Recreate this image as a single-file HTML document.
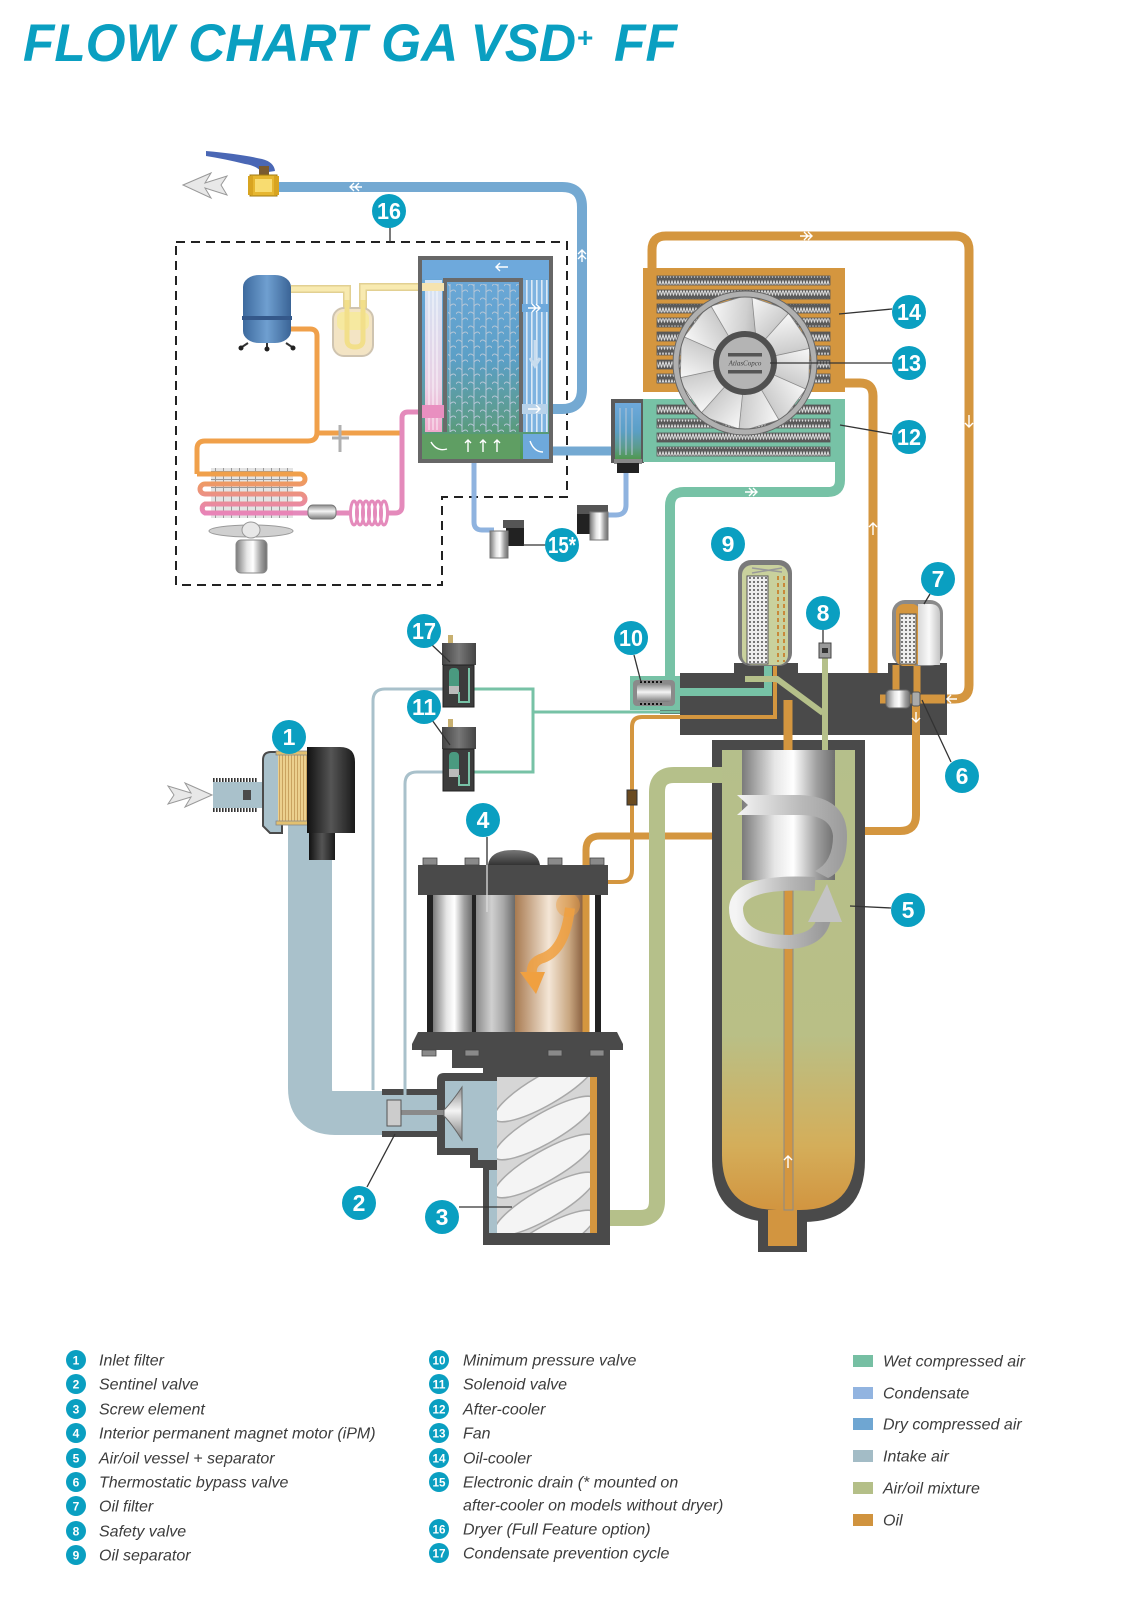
<!DOCTYPE html>
<html><head><meta charset="utf-8"><style>
html,body{margin:0;padding:0;background:#fff;}
svg{display:block;}
.lb circle{fill:#0a9fc1;}
.lb text{fill:#fff;font-family:"Liberation Sans",sans-serif;font-weight:bold;font-size:23px;text-anchor:middle;}
.lg circle{fill:#0a9fc1;}
.lg text.n{fill:#fff;font-family:"Liberation Sans",sans-serif;font-weight:bold;font-size:12px;text-anchor:middle;}
.t{fill:#3c3c3c;font-family:"Liberation Sans",sans-serif;font-style:italic;font-size:16px;}
.ld{stroke:#333;stroke-width:1.3;fill:none;}
.wa{stroke:#fff;stroke-width:1.4;fill:none;}
</style></head><body>
<svg width="1123" height="1608" viewBox="0 0 1123 1608" xmlns="http://www.w3.org/2000/svg">
<defs>
<linearGradient id="silver" x1="0" x2="1" y1="0" y2="0"><stop offset="0" stop-color="#7a7a7a"/><stop offset="0.35" stop-color="#e6e6e6"/><stop offset="0.55" stop-color="#ffffff"/><stop offset="0.8" stop-color="#a0a0a0"/><stop offset="1" stop-color="#6e6e6e"/></linearGradient>
<linearGradient id="silver2" x1="0" x2="1"><stop offset="0" stop-color="#8a8a8a"/><stop offset="0.4" stop-color="#d0d0d0"/><stop offset="0.7" stop-color="#a8a8a8"/><stop offset="1" stop-color="#6a6a6a"/></linearGradient>
<linearGradient id="silverV" x1="0" x2="0" y1="0" y2="1"><stop offset="0" stop-color="#8a8a8a"/><stop offset="0.45" stop-color="#f4f4f4"/><stop offset="1" stop-color="#7a7a7a"/></linearGradient>
<linearGradient id="lightcap" x1="0" x2="1"><stop offset="0" stop-color="#d8d8d8"/><stop offset="0.5" stop-color="#fafafa"/><stop offset="1" stop-color="#c4c4c4"/></linearGradient>
<linearGradient id="copper" x1="0" x2="1"><stop offset="0" stop-color="#a87a50"/><stop offset="0.5" stop-color="#f4e6d6"/><stop offset="0.8" stop-color="#c8a680"/><stop offset="1" stop-color="#8a6040"/></linearGradient>
<linearGradient id="vessel" x1="0" y1="0" x2="0" y2="1"><stop offset="0" stop-color="#b5bf8b"/><stop offset="0.62" stop-color="#b9bf86"/><stop offset="0.86" stop-color="#d4ae5a"/><stop offset="1" stop-color="#d29540"/></linearGradient>
<linearGradient id="dryer" x1="0" y1="0" x2="0" y2="1"><stop offset="0" stop-color="#6ea9dc"/><stop offset="0.5" stop-color="#5b9fc6"/><stop offset="0.8" stop-color="#5c9c8c"/><stop offset="1" stop-color="#4f9850"/></linearGradient>
<linearGradient id="tank" x1="0" x2="1"><stop offset="0" stop-color="#3d6a9e"/><stop offset="0.5" stop-color="#6f9fd0"/><stop offset="1" stop-color="#3a6496"/></linearGradient>
<linearGradient id="black" x1="0" x2="1"><stop offset="0" stop-color="#111"/><stop offset="0.5" stop-color="#555"/><stop offset="1" stop-color="#1a1a1a"/></linearGradient>
<linearGradient id="capg" x1="0" x2="1"><stop offset="0" stop-color="#444"/><stop offset="0.5" stop-color="#777"/><stop offset="1" stop-color="#444"/></linearGradient>
<linearGradient id="blade" x1="0" y1="0" x2="1" y2="1"><stop offset="0" stop-color="#fbfbfb"/><stop offset="0.6" stop-color="#cfcfcf"/><stop offset="1" stop-color="#9a9a9a"/></linearGradient>
<linearGradient id="refr" x1="0" y1="0" x2="0" y2="1"><stop offset="0" stop-color="#f0a04a"/><stop offset="1" stop-color="#e884b8"/></linearGradient>
<linearGradient id="ltube" x1="0" y1="0" x2="0" y2="1"><stop offset="0" stop-color="#d4e4f4"/><stop offset="0.7" stop-color="#ead0e4"/><stop offset="1" stop-color="#f0a8cc"/></linearGradient>
<linearGradient id="ribbon" x1="0" x2="1"><stop offset="0" stop-color="#f4f4f4"/><stop offset="0.6" stop-color="#b8b8b8"/><stop offset="1" stop-color="#9a9a9a"/></linearGradient>
<linearGradient id="brownbar" x1="0" x2="1"><stop offset="0" stop-color="#c8843a"/><stop offset="0.5" stop-color="#8a5a2a"/><stop offset="1" stop-color="#c8843a"/></linearGradient>
<linearGradient id="dome" x1="0" y1="0" x2="0" y2="1"><stop offset="0" stop-color="#777"/><stop offset="1" stop-color="#333"/></linearGradient>
<pattern id="fin" width="6" height="9" patternUnits="userSpaceOnUse"><rect width="6" height="9" fill="#5a5a5a"/><polyline points="0,1.5 1.5,7.5 3,1.5 4.5,7.5 6,1.5" fill="none" stroke="#dcdcdc" stroke-width="1"/></pattern>
<pattern id="dots" width="4" height="4" patternUnits="userSpaceOnUse"><rect width="4" height="4" fill="#eee"/><circle cx="2" cy="2" r="0.9" fill="#222"/></pattern>
<pattern id="grid" width="8" height="8" patternUnits="userSpaceOnUse"><rect width="8" height="8" fill="#e4e4e4"/><path d="M7.5,0V8M0,7.5H8" stroke="#9a9a9a" stroke-width="1"/></pattern>
<pattern id="rstripes" width="5" height="10" patternUnits="userSpaceOnUse"><rect width="5" height="10" fill="#7fb3e0"/><rect x="1" width="1.6" height="10" fill="#dce9f6"/></pattern>
<pattern id="waves" width="12" height="14" patternUnits="userSpaceOnUse"><path d="M6,0V14M6,6q-4,-4 -6,0M6,12q4,-4 6,0" stroke="#b6c6d6" stroke-width="1" fill="none"/></pattern>
<pattern id="thread" width="3" height="4" patternUnits="userSpaceOnUse"><rect width="3" height="4" fill="#fff"/><rect width="1.6" height="4" fill="#333"/></pattern>
<pattern id="flt" width="3" height="10" patternUnits="userSpaceOnUse"><rect width="3" height="10" fill="#ecd08e"/><rect width="1" height="10" fill="#caa360"/></pattern>
<clipPath id="rot"><rect x="497" y="1077" width="93" height="156"/></clipPath>
</defs>

<!-- TITLE -->
<text x="23" y="61" font-family="Liberation Sans, sans-serif" font-weight="bold" font-style="italic" font-size="53" fill="#0a9fc1" textLength="553" lengthAdjust="spacingAndGlyphs">FLOW CHART GA VSD</text>
<text x="577" y="47" font-family="Liberation Sans, sans-serif" font-weight="bold" font-size="28" fill="#0a9fc1">+</text>
<text x="614" y="61" font-family="Liberation Sans, sans-serif" font-weight="bold" font-style="italic" font-size="53" fill="#0a9fc1" textLength="63" lengthAdjust="spacingAndGlyphs">FF</text>

<!-- DASHED DRYER BOX -->
<path d="M176,242 H567 V497 H442 V585 H176 Z" fill="none" stroke="#222" stroke-width="2" stroke-dasharray="9 6"/>
<line x1="390" y1="226" x2="390" y2="242" class="ld"/>

<!-- dry air outlet pipe -->
<path d="M279,187 H562 Q582,187 582,207 V389 Q582,409 562,409 H548" fill="none" stroke="#74a9d2" stroke-width="10"/>
<path class="wa" d="M350,187 H362 M354,183 L350,187 L354,191 M359,183 L355,187 L359,191"/>
<path class="wa" d="M582,262 V250 M578,254 L582,250 L586,254 M578,259 L582,255 L586,259"/>
<path d="M549,451 H612" stroke="#74a9d2" stroke-width="9"/>
<!-- valve -->
<path d="M206,151 Q240,154 262,159 Q274,162 275,171 L262,173 Q258,166 245,164 Q225,159 206,156 Z" fill="#4a67b5"/>
<rect x="259" y="166" width="10" height="9" fill="#7a5a30"/>
<rect x="250" y="175" width="27" height="21" fill="#e6b630" stroke="#a07a10"/>
<rect x="255" y="179" width="17" height="13" fill="#f8dc70"/>
<rect x="248" y="176" width="5" height="19" fill="#d8a420"/>
<rect x="274" y="176" width="5" height="19" fill="#d8a420"/>
<polygon points="183,185 211,173 205,183 227,176 221,185 227,195 205,188 211,198" fill="#e8e8e8" stroke="#999" stroke-width="1"/>

<!-- refrigerant circuit -->
<path d="M291,289 H347 V340 Q347,347 355,347 Q363,347 363,340 V287 H423" fill="none" stroke="#e2d092" stroke-width="8"/>
<path d="M291,289 H347 V340 Q347,347 355,347 Q363,347 363,340 V287 H423" fill="none" stroke="#f8eab0" stroke-width="5"/>
<rect x="333" y="308" width="40" height="48" rx="11" fill="#f3e4c4" stroke="#cfc4b0" stroke-width="2"/>
<rect x="337" y="312" width="32" height="18" rx="6" fill="#f6e9a0"/>
<path d="M347,300 V340 Q347,347 355,347 Q363,347 363,340 V300" fill="none" stroke="#f2df8a" stroke-width="5"/>
<rect x="243" y="275" width="48" height="68" rx="16" ry="12" fill="url(#tank)"/>
<rect x="242" y="316" width="50" height="4" fill="#34588a"/>
<path d="M248,343 L242,347 M267,343 L267,347 M286,343 L292,347" stroke="#333" stroke-width="2"/>
<circle cx="241" cy="348" r="2.5" fill="#222"/><circle cx="267" cy="349" r="2.5" fill="#222"/><circle cx="293" cy="348" r="2.5" fill="#222"/>
<path d="M291,329 H310 Q317,329 317,336 V432 Q317,441 308,441 H205 Q197,441 197,449 V474" fill="none" stroke="#f0a04a" stroke-width="5"/>
<path d="M317,433 H404" fill="none" stroke="#f0a04a" stroke-width="5"/>
<path d="M340,425 V452 M332,438 H349" stroke="#b0b0b0" stroke-width="3"/>
<path d="M423,412 H408 Q402,412 402,418 V506 Q402,513 395,513 H388" fill="none" stroke="#e48abb" stroke-width="5"/>
<g fill="none" stroke="#e48abb" stroke-width="3">
<ellipse cx="384" cy="513" rx="3.5" ry="12"/><ellipse cx="378" cy="513" rx="3.5" ry="12"/><ellipse cx="372" cy="513" rx="3.5" ry="12"/><ellipse cx="366" cy="513" rx="3.5" ry="12"/><ellipse cx="360" cy="513" rx="3.5" ry="12"/><ellipse cx="354" cy="513" rx="3.5" ry="12"/></g>
<path d="M350,513 H293" stroke="#e48abb" stroke-width="5"/>
<rect x="308" y="505" width="28" height="14" rx="5" fill="url(#silverV)" stroke="#777"/>
<rect x="211" y="468" width="82" height="50" fill="url(#grid)"/>
<path d="M197,474 H300 a5,5 0 0 1 0,10 H205 a5,5 0 0 0 0,10 H300 a5,5 0 0 1 0,10 H205 a5,5 0 0 0 0,9 H293" fill="none" stroke="url(#refr)" stroke-width="5"/>
<ellipse cx="251" cy="531" rx="42" ry="6" fill="#d0d0d0" stroke="#9a9a9a"/>
<ellipse cx="251" cy="530" rx="9" ry="8" fill="#e8e8e8" stroke="#999"/>
<rect x="236" y="540" width="31" height="33" rx="5" fill="url(#silver)" stroke="#888"/>

<!-- dryer exchanger -->
<rect x="418" y="256" width="135" height="207" fill="#676767"/>
<rect x="422" y="260" width="127" height="199" fill="url(#dryer)"/>
<rect x="422" y="260" width="127" height="19" fill="#6ea9dc"/>
<rect x="448" y="284" width="71" height="148" fill="url(#waves)"/>
<path d="M445,432 V280 H521 V432" fill="none" stroke="#6a6a6a" stroke-width="4"/>
<rect x="425" y="280" width="17" height="152" fill="url(#ltube)"/>
<path d="M429,284V430M433,284V430M437,284V430" stroke="#fff" stroke-width="1" opacity="0.8"/>
<rect x="422" y="283" width="22" height="8" fill="#f5e3b0"/>
<rect x="422" y="405" width="22" height="13" fill="#e98fc0"/>
<rect x="523" y="280" width="25" height="152" fill="url(#rstripes)"/>
<rect x="522" y="304" width="26" height="8" fill="#6ea9dc"/>
<rect x="522" y="404" width="26" height="10" fill="#b8d2ea"/>
<rect x="422" y="434" width="98" height="25" fill="#5f9e63"/>
<rect x="523" y="434" width="26" height="25" fill="#6ea9dc"/>
<path class="wa" d="M508,267 H496 M500,263 L496,267 L500,271"/>
<path class="wa" d="M528,308 H540 M536,304 L540,308 L536,312 M532,304 L536,308 L532,312"/>
<path class="wa" d="M528,409 H540 M536,405 L540,409 L536,413"/>
<path d="M535,340 V365 M530,358 L535,366 L540,358" stroke="#c8dcee" stroke-width="3" fill="none"/>
<path class="wa" d="M468,452 V440 M465,443 L468,440 L471,443 M483,452 V440 M480,443 L483,440 L486,443 M497,452 V440 M494,443 L497,440 L500,443"/>
<path class="wa" d="M431,442 Q437,452 447,449"/>
<path class="wa" d="M530,441 Q534,452 543,452"/>

<!-- condensate lines & drains -->
<path d="M474,463 V522 Q474,530 482,530 H494" fill="none" stroke="#8fb3df" stroke-width="5"/>
<path d="M626,473 V505 Q626,515 616,515 H606" fill="none" stroke="#8fb3df" stroke-width="5"/>
<rect x="503" y="520" width="21" height="8" fill="#555"/>
<rect x="506" y="528" width="18" height="18" fill="#222"/>
<rect x="490" y="531" width="18" height="27" fill="url(#silver)" stroke="#777"/>
<rect x="577" y="505" width="31" height="9" fill="#555"/>
<rect x="577" y="514" width="18" height="20" fill="#222"/>
<rect x="590" y="512" width="18" height="28" fill="url(#silver)" stroke="#777"/>
<line x1="523" y1="545" x2="546" y2="545" class="ld"/>

<!-- water separator -->
<rect x="611" y="399" width="33" height="64" fill="#5a5a5a"/>
<rect x="615" y="403" width="26" height="56" fill="url(#dryer)"/>
<path d="M620,408V455M626,408V455M632,408V455" stroke="#b6c6d6" stroke-width="1"/>
<rect x="614" y="459" width="28" height="5" fill="#888"/>
<rect x="617" y="463" width="22" height="10" fill="#222"/>

<!-- oil loops & wet air -->
<path d="M652,268 V250 Q652,236 666,236 H955 Q969,236 969,250 V685 Q969,699 955,699 H945" fill="none" stroke="#d4963f" stroke-width="9"/>
<path d="M845,383 H860 Q873,383 873,396 V690 Q873,700 863,700 H798 Q788,700 788,710 V760" fill="none" stroke="#d4963f" stroke-width="9"/>
<path d="M840,460 V480 Q840,492 828,492 H684 Q670,492 670,506 V692" fill="none" stroke="#77c2a6" stroke-width="10"/>
<path class="wa" d="M800,236 H812 M808,232 L812,236 L808,240 M804,232 L808,236 L804,240"/>
<path class="wa" d="M969,415 V427 M965,423 L969,427 L973,423"/>
<path class="wa" d="M873,535 V523 M869,527 L873,523 L877,527"/>
<path class="wa" d="M745,492 H757 M753,488 L757,492 L753,496 M749,488 L753,492 L749,496"/>

<!-- coolers -->
<rect x="643" y="268" width="202" height="124" fill="#d4963f"/>
<g fill="url(#fin)" stroke="#555" stroke-width="0.8">
<rect x="657" y="276" width="173" height="9"/><rect x="657" y="290" width="173" height="9"/><rect x="657" y="304" width="173" height="9"/><rect x="657" y="318" width="173" height="9"/><rect x="657" y="332" width="173" height="9"/><rect x="657" y="346" width="173" height="9"/><rect x="657" y="360" width="173" height="9"/><rect x="657" y="374" width="173" height="9"/>
</g>
<rect x="643" y="399" width="202" height="63" fill="#77c2a6"/>
<g fill="url(#fin)" stroke="#555" stroke-width="0.8">
<rect x="657" y="405" width="173" height="9"/><rect x="657" y="419" width="173" height="9"/><rect x="657" y="433" width="173" height="9"/><rect x="657" y="447" width="173" height="9"/>
</g>
<!-- fan -->
<g transform="translate(745,363)">
<g fill="url(#blade)" stroke="#8a8a8a" stroke-width="0.8">
<path d="M2,-27 L6,-66 L46,-52 L26,-18 Z"/>
<path d="M2,-27 L6,-66 L46,-52 L26,-18 Z" transform="rotate(36)"/>
<path d="M2,-27 L6,-66 L46,-52 L26,-18 Z" transform="rotate(72)"/>
<path d="M2,-27 L6,-66 L46,-52 L26,-18 Z" transform="rotate(108)"/>
<path d="M2,-27 L6,-66 L46,-52 L26,-18 Z" transform="rotate(144)"/>
<path d="M2,-27 L6,-66 L46,-52 L26,-18 Z" transform="rotate(180)"/>
<path d="M2,-27 L6,-66 L46,-52 L26,-18 Z" transform="rotate(216)"/>
<path d="M2,-27 L6,-66 L46,-52 L26,-18 Z" transform="rotate(252)"/>
<path d="M2,-27 L6,-66 L46,-52 L26,-18 Z" transform="rotate(288)"/>
<path d="M2,-27 L6,-66 L46,-52 L26,-18 Z" transform="rotate(324)"/>
</g>
<circle r="69" fill="none" stroke="#b0b0b0" stroke-width="6"/>
<circle r="72" fill="none" stroke="#666" stroke-width="1"/>
<circle r="66" fill="none" stroke="#666" stroke-width="1"/>
<circle r="29" fill="#b4b4b4" stroke="#505050" stroke-width="6"/>
<rect x="-17" y="-10" width="34" height="3.5" fill="#555"/>
<rect x="-17" y="7" width="34" height="3.5" fill="#555"/>
<text x="0" y="2.5" font-family="Liberation Serif, serif" font-style="italic" font-size="7" fill="#444" text-anchor="middle">AtlasCopco</text>
</g>
<line x1="839" y1="314" x2="892" y2="309" class="ld"/>
<line x1="770" y1="363" x2="892" y2="363" class="ld"/>
<line x1="840" y1="425" x2="892" y2="434" class="ld"/>

<!-- main manifold block -->
<rect x="680" y="673" width="267" height="62" fill="#4a4a4a"/>
<rect x="734" y="663" width="64" height="12" fill="#4a4a4a"/>
<rect x="888" y="663" width="59" height="12" fill="#4a4a4a"/>
<rect x="660" y="676" width="22" height="38" fill="#4a4a4a"/>
<path d="M670,692 H768 V666" fill="none" stroke="#77c2a6" stroke-width="8"/>
<path d="M680,712 H533" fill="none" stroke="#77c2a6" stroke-width="3"/>
<path d="M775,666 V717 H642 Q632,717 632,727 V870 Q632,882 620,882 H592" fill="none" stroke="#d4963f" stroke-width="4"/>
<rect x="627" y="790" width="10" height="15" fill="#6a4a20" stroke="#333"/>
<path d="M745,679 H777 L823,713 M825,656 V752" fill="none" stroke="#b5c08a" stroke-width="6"/>
<path d="M896,665 V705 M917,665 V700" stroke="#d4963f" stroke-width="7"/>
<path d="M945,699 H880" stroke="#d4963f" stroke-width="9"/>
<path d="M916,700 V815 Q916,831 900,831 H860" fill="none" stroke="#d4963f" stroke-width="8"/>
<path class="wa" d="M916,712 V722 M912,718 L916,722 L920,718"/>
<rect x="886" y="690" width="24" height="18" rx="4" fill="url(#silver)" stroke="#666"/>
<rect x="912" y="692" width="8" height="14" rx="2" fill="#aaa" stroke="#555"/>
<path class="wa" d="M957,699 H947 M951,695 L947,699 L951,703"/>

<!-- oil separator 9 -->
<rect x="738" y="560" width="54" height="106" rx="13" fill="#7a7a7a"/>
<rect x="742" y="565" width="46" height="100" rx="10" fill="#c9d19d"/>
<rect x="747" y="576" width="21" height="88" fill="url(#dots)" stroke="#555"/>
<path d="M778,576 V662 M784,576 V662" stroke="#c8893a" stroke-width="2" stroke-dasharray="4 3"/>
<path d="M752,568 L782,572 M752,573 L782,568" stroke="#999" stroke-width="1.5"/>
<!-- oil filter 7 -->
<rect x="892" y="600" width="51" height="66" rx="13" fill="#8a8a8a"/>
<rect x="896" y="604" width="24" height="62" rx="8" fill="#d4963f"/>
<rect x="900" y="614" width="16" height="50" fill="url(#dots)" stroke="#555"/>
<path d="M918,604 H930 Q940,604 940,614 V665 H918 Z" fill="url(#lightcap)"/>
<!-- safety valve 8 -->
<rect x="819" y="643" width="12" height="15" fill="#9a9a9a" stroke="#444"/>
<rect x="822" y="648" width="6" height="5" fill="#333"/>
<!-- MPV 10 -->
<rect x="630" y="676" width="50" height="34" fill="#77c2a6"/>
<rect x="633" y="680" width="42" height="26" rx="4" fill="#8a8a8a"/>
<rect x="637" y="684" width="34" height="18" rx="3" fill="url(#silverV)"/>
<path d="M640,682 H664 M640,704 H664" stroke="#111" stroke-width="2" stroke-dasharray="2 2"/>

<!-- behind-vessel oil bar -->
<path d="M632,834 H712" stroke="url(#brownbar)" stroke-width="9"/>
<path d="M712,836 H600 Q586,836 586,850 V1077" fill="none" stroke="#d4963f" stroke-width="7"/>

<!-- vessel -->
<path d="M712,740 H865 V1160 Q865,1222 803,1222 H774 Q712,1222 712,1160 Z" fill="#4a4a4a"/>
<rect x="758" y="1212" width="49" height="40" fill="#4a4a4a"/>
<rect x="768" y="1210" width="29" height="36" fill="#d29540"/>
<path d="M722,750 H855 V1155 Q855,1210 800,1210 H777 Q722,1210 722,1155 Z" fill="url(#vessel)"/>
<rect x="784" y="870" width="9" height="340" fill="#d4963f" stroke="#8a8a8a" stroke-width="1"/>
<path d="M788,700 V760" stroke="#d4963f" stroke-width="9"/>
<rect x="742" y="750" width="93" height="130" fill="url(#silver)"/>
<path d="M825,740 V750" stroke="#b5c08a" stroke-width="6"/>
<path d="M737,795 L800,795 Q847,797 847,836 Q847,870 828,878 L815,871 Q833,862 833,836 Q831,815 800,815 L737,815 L748,805 Z" fill="url(#ribbon)"/>
<path d="M815,884 Q738,880 736,908 Q736,942 790,942 Q820,940 824,918" fill="none" stroke="url(#ribbon)" stroke-width="14"/>
<polygon points="808,922 842,922 827,884" fill="#c4c4c4"/>
<path class="wa" d="M788,1168 V1156 M784,1160 L788,1156 L792,1160"/>
<line x1="850" y1="906" x2="891" y2="908" class="ld"/>
<line x1="951" y1="762" x2="922" y2="700" class="ld"/>

<!-- air/oil pipe -->
<path d="M597,1218 H640 Q657,1218 657,1201 V792 Q657,775 674,775 H722" fill="none" stroke="#b5c08a" stroke-width="16"/>

<!-- intake pipe -->
<path d="M310,823 V1088 Q310,1113 335,1113 H440" fill="none" stroke="#a9c1cb" stroke-width="44"/>

<!-- element housing -->
<path d="M437,1080 Q437,1073 444,1073 H483 V1066 H610 V1245 H483 V1168 H470 V1155 H437 Z" fill="#4a4a4a"/>
<path d="M445,1081 H497 V1160 H478 V1148 H445 Z" fill="#a9c1cb"/>
<rect x="497" y="1077" width="100" height="156" fill="#d6d6d6"/>
<g clip-path="url(#rot)" fill="#f4f4f4" stroke="#a8a8a8" stroke-width="1.5">
<ellipse cx="545" cy="1090" rx="58" ry="15" transform="rotate(-30 545 1090)"/>
<ellipse cx="545" cy="1128" rx="58" ry="15" transform="rotate(-30 545 1128)"/>
<ellipse cx="545" cy="1166" rx="58" ry="15" transform="rotate(-30 545 1166)"/>
<ellipse cx="545" cy="1204" rx="58" ry="15" transform="rotate(-30 545 1204)"/>
<ellipse cx="545" cy="1242" rx="58" ry="15" transform="rotate(-30 545 1242)"/>
</g>
<rect x="590" y="1077" width="7" height="156" fill="#d4963f"/>
<rect x="489" y="1170" width="8" height="63" fill="#a9c1cb"/>
<!-- sentinel valve -->
<rect x="382" y="1089" width="55" height="6" fill="#4a4a4a"/>
<rect x="382" y="1131" width="55" height="6" fill="#4a4a4a"/>
<rect x="393" y="1110" width="52" height="5" fill="#8a8a8a"/>
<rect x="387" y="1100" width="14" height="26" fill="#ccc" stroke="#555"/>
<path d="M462,1087 V1140 Q452,1124 444,1116 V1110 Q452,1102 462,1087 Z" fill="url(#silverV)" stroke="#666"/>

<!-- motor -->
<rect x="427" y="895" width="6" height="137" fill="#222"/>
<rect x="433" y="895" width="39" height="137" fill="url(#silver)"/>
<rect x="472" y="895" width="4" height="137" fill="#222"/>
<rect x="476" y="895" width="39" height="137" fill="url(#silver2)"/>
<rect x="515" y="895" width="68" height="137" fill="url(#copper)"/>
<rect x="595" y="895" width="6" height="137" fill="#222"/>
<path d="M586,895 V1032" stroke="#d4963f" stroke-width="7"/>
<circle cx="568" cy="905" r="12" fill="#f0a040" opacity="0.45"/>
<path d="M570,908 Q565,950 543,958 Q530,962 532,975" fill="none" stroke="#f0a040" stroke-width="10" opacity="0.85"/>
<polygon points="520,972 545,972 536,994" fill="#f0a040"/>
<rect x="418" y="865" width="190" height="30" fill="#4a4a4a"/>
<path d="M488,865 Q490,850 514,850 Q538,850 540,865 Z" fill="url(#dome)"/>
<g fill="#8a8a8a" stroke="#444" stroke-width="0.8">
<rect x="423" y="858" width="14" height="7"/><rect x="465" y="858" width="14" height="7"/><rect x="548" y="858" width="14" height="7"/><rect x="590" y="858" width="14" height="7"/>
</g>
<path d="M418,1032 H617 L623,1044 V1050 H412 V1044 Z" fill="#4a4a4a"/>
<rect x="452" y="1050" width="158" height="18" fill="#4a4a4a"/>
<g fill="#8a8a8a" stroke="#444" stroke-width="0.8">
<rect x="422" y="1050" width="14" height="6"/><rect x="465" y="1050" width="14" height="6"/><rect x="548" y="1050" width="14" height="6"/><rect x="590" y="1050" width="14" height="6"/>
</g>

<!-- inlet filter -->
<rect x="213" y="782" width="54" height="26" fill="#a9c1cb"/>
<rect x="213" y="778" width="45" height="4" fill="url(#thread)"/>
<rect x="213" y="808" width="45" height="4" fill="url(#thread)"/>
<rect x="243" y="790" width="8" height="10" fill="#4a4a4a"/>
<path d="M263,760 Q263,752 271,752 H282 V833 H270 L263,826 Z" fill="#a9c1cb" stroke="#4a4a4a" stroke-width="2"/>
<rect x="278" y="754" width="31" height="69" fill="url(#flt)"/>
<rect x="276" y="751" width="35" height="4" fill="#e2c070" stroke="#888" stroke-width="0.8"/>
<rect x="276" y="821" width="35" height="4" fill="#e2c070" stroke="#888" stroke-width="0.8"/>
<path d="M307,747 H340 Q355,747 355,762 V833 H307 Z" fill="url(#black)"/>
<rect x="309" y="833" width="26" height="27" fill="url(#black)"/>
<polygon points="212,795 185,783 191,793 168,786 174,795 168,804 191,797 185,807" fill="#e8e8e8" stroke="#999" stroke-width="1"/>

<!-- solenoids -->
<path d="M452,689 H385 Q373,689 373,701 V1090" fill="none" stroke="#a9c1cb" stroke-width="3"/>
<path d="M452,772 H417 Q405,772 405,784 V1100" fill="none" stroke="#a9c1cb" stroke-width="3"/>
<path d="M470,689 H533 V772 H470" fill="none" stroke="#77c2a6" stroke-width="3"/>
<g>
<rect x="448" y="635" width="5" height="8" fill="#c8b070"/>
<rect x="442" y="643" width="34" height="22" fill="url(#capg)"/>
<rect x="443" y="665" width="31" height="42" fill="#3c3c3c" stroke="#222"/>
<rect x="449" y="668" width="10" height="22" rx="4" fill="#4a9a80"/>
<rect x="449" y="686" width="10" height="8" fill="#bbb"/>
<path d="M459,692 V702 H469 V668" fill="none" stroke="#77c2a6" stroke-width="2"/>
</g>
<g>
<rect x="448" y="719" width="5" height="8" fill="#c8b070"/>
<rect x="442" y="727" width="34" height="22" fill="url(#capg)"/>
<rect x="443" y="749" width="31" height="42" fill="#3c3c3c" stroke="#222"/>
<rect x="449" y="752" width="10" height="22" rx="4" fill="#4a9a80"/>
<rect x="449" y="769" width="10" height="8" fill="#bbb"/>
<path d="M459,775 V785 H469 V752" fill="none" stroke="#77c2a6" stroke-width="2"/>
</g>

<!-- leaders -->
<line x1="367" y1="1187" x2="395" y2="1134" class="ld"/>
<line x1="459" y1="1207" x2="512" y2="1207" class="ld"/>
<line x1="487" y1="837" x2="487" y2="912" stroke="#ddd" stroke-width="1.3"/>
<line x1="487" y1="837" x2="487" y2="865" class="ld"/>
<line x1="634" y1="655" x2="641" y2="682" class="ld"/>
<line x1="432" y1="645" x2="450" y2="662" class="ld"/>
<line x1="432" y1="720" x2="450" y2="745" class="ld"/>
<line x1="930" y1="594" x2="924" y2="604" class="ld"/>
<line x1="823" y1="630" x2="823" y2="643" class="ld"/>

<!-- labels -->
<g class="lb">
<circle cx="389" cy="211" r="17"/><text x="389" y="219" textLength="24" lengthAdjust="spacingAndGlyphs">16</text>
<circle cx="909" cy="312" r="17"/><text x="909" y="320" textLength="24" lengthAdjust="spacingAndGlyphs">14</text>
<circle cx="909" cy="363" r="17"/><text x="909" y="371" textLength="24" lengthAdjust="spacingAndGlyphs">13</text>
<circle cx="909" cy="437" r="17"/><text x="909" y="445" textLength="24" lengthAdjust="spacingAndGlyphs">12</text>
<circle cx="562" cy="545" r="17"/><text x="562" y="553" textLength="28" lengthAdjust="spacingAndGlyphs">15*</text>
<circle cx="728" cy="544" r="17"/><text x="728" y="552">9</text>
<circle cx="938" cy="579" r="17"/><text x="938" y="587">7</text>
<circle cx="823" cy="613" r="17"/><text x="823" y="621">8</text>
<circle cx="631" cy="638" r="17"/><text x="631" y="646" textLength="24" lengthAdjust="spacingAndGlyphs">10</text>
<circle cx="424" cy="631" r="17"/><text x="424" y="639" textLength="24" lengthAdjust="spacingAndGlyphs">17</text>
<circle cx="424" cy="707" r="17"/><text x="424" y="715" textLength="24" lengthAdjust="spacingAndGlyphs">11</text>
<circle cx="289" cy="737" r="17"/><text x="289" y="745">1</text>
<circle cx="962" cy="776" r="17"/><text x="962" y="784">6</text>
<circle cx="483" cy="820" r="17"/><text x="483" y="828">4</text>
<circle cx="908" cy="910" r="17"/><text x="908" y="918">5</text>
<circle cx="359" cy="1203" r="17"/><text x="359" y="1211">2</text>
<circle cx="442" cy="1217" r="17"/><text x="442" y="1225">3</text>
</g>

<!-- LEGEND -->
<g class="lg">
<circle cx="76" cy="1360" r="10"/><text class="n" x="76" y="1364.5">1</text>
<circle cx="76" cy="1384" r="10"/><text class="n" x="76" y="1388.5">2</text>
<circle cx="76" cy="1409" r="10"/><text class="n" x="76" y="1413.5">3</text>
<circle cx="76" cy="1433" r="10"/><text class="n" x="76" y="1437.5">4</text>
<circle cx="76" cy="1458" r="10"/><text class="n" x="76" y="1462.5">5</text>
<circle cx="76" cy="1482" r="10"/><text class="n" x="76" y="1486.5">6</text>
<circle cx="76" cy="1506" r="10"/><text class="n" x="76" y="1510.5">7</text>
<circle cx="76" cy="1531" r="10"/><text class="n" x="76" y="1535.5">8</text>
<circle cx="76" cy="1555" r="10"/><text class="n" x="76" y="1559.5">9</text>
<circle cx="439" cy="1360" r="10"/><text class="n" x="439" y="1364.5" textLength="13" lengthAdjust="spacingAndGlyphs">10</text>
<circle cx="439" cy="1384" r="10"/><text class="n" x="439" y="1388.5" textLength="13" lengthAdjust="spacingAndGlyphs">11</text>
<circle cx="439" cy="1409" r="10"/><text class="n" x="439" y="1413.5" textLength="13" lengthAdjust="spacingAndGlyphs">12</text>
<circle cx="439" cy="1433" r="10"/><text class="n" x="439" y="1437.5" textLength="13" lengthAdjust="spacingAndGlyphs">13</text>
<circle cx="439" cy="1458" r="10"/><text class="n" x="439" y="1462.5" textLength="13" lengthAdjust="spacingAndGlyphs">14</text>
<circle cx="439" cy="1482" r="10"/><text class="n" x="439" y="1486.5" textLength="13" lengthAdjust="spacingAndGlyphs">15</text>
<circle cx="439" cy="1529" r="10"/><text class="n" x="439" y="1533.5" textLength="13" lengthAdjust="spacingAndGlyphs">16</text>
<circle cx="439" cy="1553" r="10"/><text class="n" x="439" y="1557.5" textLength="13" lengthAdjust="spacingAndGlyphs">17</text>
</g>
<text class="t" x="99" y="1365.5">Inlet filter</text>
<text class="t" x="99" y="1389.5">Sentinel valve</text>
<text class="t" x="99" y="1414.5">Screw element</text>
<text class="t" x="99" y="1438.5">Interior permanent magnet motor (iPM)</text>
<text class="t" x="99" y="1463.5">Air/oil vessel + separator</text>
<text class="t" x="99" y="1487.5">Thermostatic bypass valve</text>
<text class="t" x="99" y="1511.5">Oil filter</text>
<text class="t" x="99" y="1536.5">Safety valve</text>
<text class="t" x="99" y="1560.5">Oil separator</text>
<text class="t" x="463" y="1365.5">Minimum pressure valve</text>
<text class="t" x="463" y="1389.5">Solenoid valve</text>
<text class="t" x="463" y="1414.5">After-cooler</text>
<text class="t" x="463" y="1438.5">Fan</text>
<text class="t" x="463" y="1463.5">Oil-cooler</text>
<text class="t" x="463" y="1487.5">Electronic drain (* mounted on</text>
<text class="t" x="463" y="1510.5">after-cooler on models without dryer)</text>
<text class="t" x="463" y="1534.5">Dryer (Full Feature option)</text>
<text class="t" x="463" y="1558.5">Condensate prevention cycle</text>

<rect x="853" y="1355" width="20" height="12" fill="#76bfa3"/>
<rect x="853" y="1387" width="20" height="12" fill="#92b4e0"/>
<rect x="853" y="1418" width="20" height="12" fill="#6fa6d2"/>
<rect x="853" y="1450" width="20" height="12" fill="#a3bcc6"/>
<rect x="853" y="1482" width="20" height="12" fill="#b4bf88"/>
<rect x="853" y="1514" width="20" height="12" fill="#d0933e"/>
<text class="t" x="883" y="1366.5">Wet compressed air</text>
<text class="t" x="883" y="1398.5">Condensate</text>
<text class="t" x="883" y="1429.5">Dry compressed air</text>
<text class="t" x="883" y="1461.5">Intake air</text>
<text class="t" x="883" y="1493.5">Air/oil mixture</text>
<text class="t" x="883" y="1525.5">Oil</text>
</svg>
</body></html>
